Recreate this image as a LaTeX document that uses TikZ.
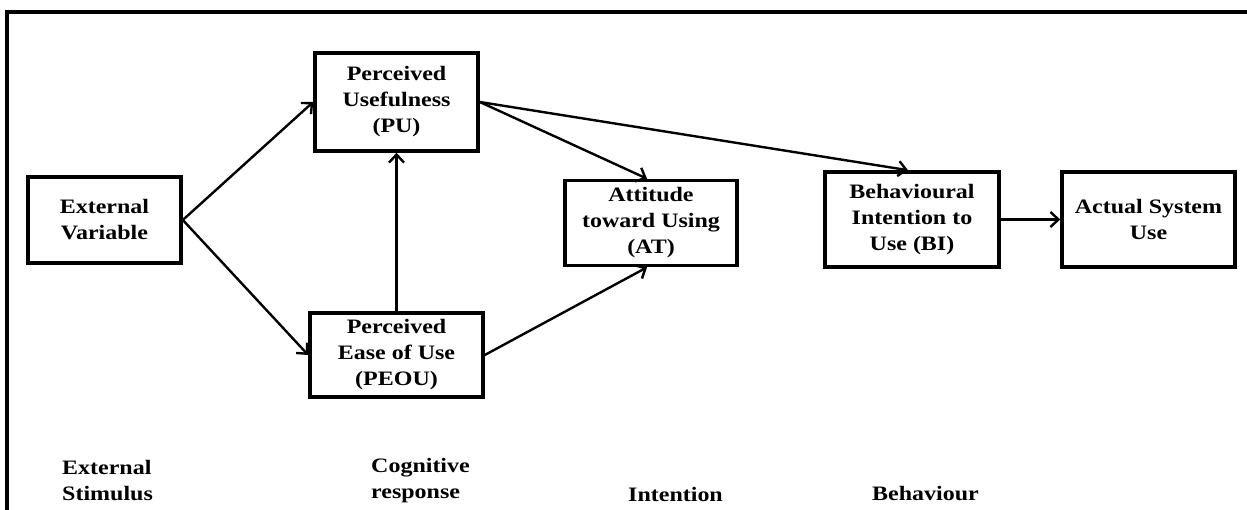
\documentclass[tikz,border=0pt]{standalone}
\usepackage{fontspec}
\setmainfont{Liberation Serif}[FakeStretch=1.17]
\usetikzlibrary{arrows.meta}
\tikzset{
  boxnode/.style={draw=black, line width=3.6pt, rectangle, inner sep=0pt, align=center,
    font=\bfseries\fontsize{20.5}{26}\selectfont},
  lbl/.style={inner sep=0pt, align=left, anchor=west, font=\bfseries\fontsize{20.5}{26}\selectfont},
  conn/.style={line width=2.4pt, -{Straight Barb[length=8pt,width=15pt,line width=2.4pt]}}
}
\begin{document}
\begin{tikzpicture}[x=1pt,y=-1pt]
\useasboundingbox (0,0) rectangle (1247,510);
\fill[white] (0,0) rectangle (1247,510);
\coordinate (fTL) at (7,12);
\coordinate (fTR) at (1247,12);
\coordinate (fBL) at (7,510);
\draw[line width=3.6pt] (fBL) -- (fTL) -- (fTR);

\node[boxnode, minimum width=153pt, minimum height=86pt] (ev) at (104.5,220) {External\\Variable};
\node[boxnode, minimum width=163pt, minimum height=98pt] (pu) at (396.5,102) {Perceived\\Usefulness\\(PU)};
\node[boxnode, minimum width=173pt, minimum height=84pt] (peou) at (396.5,355) {Perceived\\Ease of Use\\(PEOU)};
\node[boxnode, minimum width=172pt, minimum height=85pt] (at) at (651,223) {Attitude\\toward Using\\(AT)};
\node[boxnode, minimum width=174pt, minimum height=95pt] (bi) at (912,219.5) {Behavioural\\Intention to\\Use (BI)};
\node[boxnode, minimum width=173pt, minimum height=95pt] (asu) at (1148.5,219.5) {Actual System\\Use};

\draw[conn] (ev.east) -- (pu.west);
\draw[conn] (ev.east) -- (peou.west);
\draw[conn] (peou.north) -- (pu.south);
\draw[conn] (pu.east) -- ([xshift=-4pt]at.north);
\draw[conn] (pu.east) -- ([xshift=-4pt]bi.north);
\draw[conn] (peou.east) -- ([xshift=-4pt]at.south);
\draw[conn] (bi.east) -- (asu.west);

\node[lbl] (l1) at (62,481) {External\\Stimulus};
\node[lbl] (l2) at (371,481) {Cognitive\\response};
\node[lbl] (l3) at (628,494) {Intention};
\node[lbl] (l4) at (872,494) {Behaviour};
\end{tikzpicture}
\end{document}
